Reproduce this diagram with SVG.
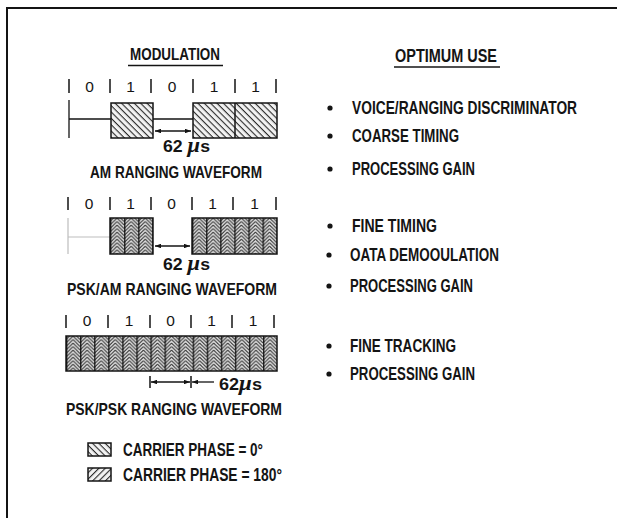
<svg xmlns="http://www.w3.org/2000/svg" width="617" height="518" viewBox="0 0 617 518">
<style>
.t{font-family:"Liberation Sans",Arial,sans-serif;font-weight:bold;fill:#141414}
.h{font-size:16.5px}
.r{font-size:18.5px}
.b{font-size:15.5px;text-anchor:middle;font-weight:normal}
.mu{font-family:"Liberation Serif","DejaVu Serif",serif;font-style:italic;font-size:21px}
.tk{stroke:#141414;stroke-width:1.5}
.ln{stroke:#141414;stroke-width:1.3;fill:none}
.bx{stroke:#141414;stroke-width:1.5}
.dot{fill:#141414}
.hbl{stroke:#3a3a3a;stroke-width:1.1;fill:none}
.hbv{stroke:#111;stroke-width:1.3}
</style>
<defs>
<pattern id="hB" width="4.5" height="4.5" patternUnits="userSpaceOnUse" patternTransform="rotate(45)"><rect width="4.5" height="4.5" fill="#f2f2f2"/><rect y="0" width="4.5" height="1.1" fill="#2a2a2a"/></pattern>
<pattern id="hF" width="4.5" height="4.5" patternUnits="userSpaceOnUse" patternTransform="rotate(-45)"><rect width="4.5" height="4.5" fill="#f2f2f2"/><rect y="0" width="4.5" height="1.1" fill="#2a2a2a"/></pattern>
<pattern id="hb2a" x="110" y="218" width="14.1" height="3.525" patternUnits="userSpaceOnUse"><rect width="14.1" height="3.525" fill="#e4e4e4"/><path class="hbl" d="M0,0 L7.05,-7.05 M0,3.525 L7.05,-3.525 M0,7.05 L7.05,0 M0,10.575 L7.05,3.525 M7.05,-7.05 L14.1,0 M7.05,-3.525 L14.1,3.525 M7.05,0 L14.1,7.05 M7.05,3.525 L14.1,10.575"/><line class="hbv" x1="0.7" y1="0" x2="0.7" y2="3.525"/></pattern>
<pattern id="hb2b" x="192" y="218" width="14.1" height="3.525" patternUnits="userSpaceOnUse"><rect width="14.1" height="3.525" fill="#e4e4e4"/><path class="hbl" d="M0,0 L7.05,-7.05 M0,3.525 L7.05,-3.525 M0,7.05 L7.05,0 M0,10.575 L7.05,3.525 M7.05,-7.05 L14.1,0 M7.05,-3.525 L14.1,3.525 M7.05,0 L14.1,7.05 M7.05,3.525 L14.1,10.575"/><line class="hbv" x1="0.7" y1="0" x2="0.7" y2="3.525"/></pattern>
<pattern id="hb3" x="66" y="336" width="14.07" height="3.525" patternUnits="userSpaceOnUse"><rect width="14.1" height="3.525" fill="#e4e4e4"/><path class="hbl" d="M0,0 L7.05,-7.05 M0,3.525 L7.05,-3.525 M0,7.05 L7.05,0 M0,10.575 L7.05,3.525 M7.05,-7.05 L14.1,0 M7.05,-3.525 L14.1,3.525 M7.05,0 L14.1,7.05 M7.05,3.525 L14.1,10.575"/><line class="hbv" x1="0.7" y1="0" x2="0.7" y2="3.525"/></pattern>
<marker id="ah" viewBox="0 0 8 6" refX="8" refY="3" markerWidth="6" markerHeight="4.5" markerUnits="userSpaceOnUse" orient="auto-start-reverse"><path d="M0,0 L8,3 L0,6 Z" fill="#141414"/></marker>
</defs>
<rect width="617" height="518" fill="#fff"/>
<path d="M7,518 V8 H617" fill="none" stroke="#141414" stroke-width="2"/>

<g id="headings">
<text class="t h" x="130" y="60" textLength="90" lengthAdjust="spacingAndGlyphs">MODULATION</text>
<line x1="128" y1="65.5" x2="223" y2="65.5" class="ln"/>
<text class="t r" x="395" y="62" textLength="102" lengthAdjust="spacingAndGlyphs">OPTIMUM USE</text>
<line x1="394" y1="67" x2="500" y2="67" class="ln"/>
</g>

<g id="am-waveform">
<path class="tk" d="M69,79V93 M110,79V93 M151,79V93 M193,79V93 M235,79V93 M276,79V93"/>
<text class="t b" x="89.5" y="92">0</text><text class="t b" x="130.5" y="92">1</text><text class="t b" x="172" y="92">0</text><text class="t b" x="214" y="92">1</text><text class="t b" x="255.5" y="92">1</text>
<path class="ln" d="M69,100V138 M69,119H111 M153,119H193"/>
<rect class="bx" x="111" y="103" width="42" height="35" fill="url(#hB)"/>
<rect class="bx" x="193" y="103" width="84" height="35" fill="url(#hB)"/>
<line class="bx" x1="235" y1="103" x2="235" y2="138"/>
<line class="ln" x1="155" y1="131" x2="191" y2="131" marker-start="url(#ah)" marker-end="url(#ah)"/>
<text class="t h" x="163" y="152" textLength="47" lengthAdjust="spacingAndGlyphs">62 <tspan class="mu">μ</tspan>s</text>
<text class="t h" x="90" y="178" textLength="172" lengthAdjust="spacingAndGlyphs">AM RANGING WAVEFORM</text>
</g>

<g id="pskam-waveform">
<path class="tk" d="M68,197V210 M110,197V210 M151,197V210 M192,197V210 M233,197V210 M276,197V210"/>
<text class="t b" x="89" y="209">0</text><text class="t b" x="130.5" y="209">1</text><text class="t b" x="171.5" y="209">0</text><text class="t b" x="212.5" y="209">1</text><text class="t b" x="254.5" y="209">1</text>
<path d="M68,218V254 M68,237H110" stroke="#bdbdbd" stroke-width="1.2" fill="none"/>
<rect class="bx" x="110" y="218" width="43" height="36" fill="url(#hb2a)"/>
<rect class="bx" x="192" y="218" width="85" height="36" fill="url(#hb2b)"/>
<line class="ln" x1="155" y1="246" x2="190" y2="246" marker-start="url(#ah)" marker-end="url(#ah)"/>
<text class="t h" x="163" y="270" textLength="47" lengthAdjust="spacingAndGlyphs">62 <tspan class="mu">μ</tspan>s</text>
<text class="t h" x="67" y="295" textLength="210" lengthAdjust="spacingAndGlyphs">PSK/AM RANGING WAVEFORM</text>
</g>

<g id="pskpsk-waveform">
<path class="tk" d="M66,315V328 M108,315V328 M150,315V328 M191,315V328 M232,315V328 M274,315V328"/>
<text class="t b" x="87" y="326">0</text><text class="t b" x="129" y="326">1</text><text class="t b" x="170.5" y="326">0</text><text class="t b" x="211.5" y="326">1</text><text class="t b" x="253" y="326">1</text>
<rect class="bx" x="66" y="336" width="211" height="35" fill="url(#hb3)"/>
<path class="tk" d="M150,376V388 M191,376V388"/>
<line class="ln" x1="151" y1="382" x2="190" y2="382" marker-start="url(#ah)" marker-end="url(#ah)"/>
<line class="ln" x1="192" y1="382" x2="214" y2="382" marker-start="url(#ah)"/>
<text class="t h" x="219" y="390" textLength="43" lengthAdjust="spacingAndGlyphs">62<tspan class="mu">μ</tspan>s</text>
<text class="t h" x="66" y="415" textLength="216" lengthAdjust="spacingAndGlyphs">PSK/PSK RANGING WAVEFORM</text>
</g>

<g id="legend">
<rect class="bx" x="88" y="443" width="23" height="13" fill="url(#hB)"/>
<text class="t r" x="123" y="456" textLength="140" lengthAdjust="spacingAndGlyphs">CARRIER PHASE = 0°</text>
<rect class="bx" x="88" y="468" width="23" height="13" fill="url(#hF)"/>
<text class="t r" x="123" y="481" textLength="159" lengthAdjust="spacingAndGlyphs">CARRIER PHASE = 180°</text>
</g>

<g id="use-am">
<circle class="dot" cx="330" cy="108" r="2.6"/>
<text class="t r" transform="translate(352 114) scale(0.78 1)" x="0" y="0" textLength="288.5" lengthAdjust="spacingAndGlyphs">VOICE/RANGING DISCRIMINATOR</text>
<circle class="dot" cx="330" cy="136" r="2.6"/>
<text class="t r" x="352" y="142" textLength="107" lengthAdjust="spacingAndGlyphs">COARSE TIMING</text>
<circle class="dot" cx="330" cy="169" r="2.6"/>
<text class="t r" x="352" y="175" textLength="123" lengthAdjust="spacingAndGlyphs">PROCESSING GAIN</text>
</g>

<g id="use-pskam">
<circle class="dot" cx="330" cy="226" r="2.6"/>
<text class="t r" x="352" y="232" textLength="85" lengthAdjust="spacingAndGlyphs">FINE TIMING</text>
<circle class="dot" cx="329" cy="255" r="2.6"/>
<text class="t r" x="350" y="261" textLength="149" lengthAdjust="spacingAndGlyphs">OATA DEMOOULATION</text>
<circle class="dot" cx="329" cy="286" r="2.6"/>
<text class="t r" x="350" y="292" textLength="123" lengthAdjust="spacingAndGlyphs">PROCESSING GAIN</text>
</g>

<g id="use-pskpsk">
<circle class="dot" cx="329" cy="346" r="2.6"/>
<text class="t r" x="350" y="352" textLength="106" lengthAdjust="spacingAndGlyphs">FINE TRACKING</text>
<circle class="dot" cx="329" cy="374" r="2.6"/>
<text class="t r" x="350" y="380" textLength="125" lengthAdjust="spacingAndGlyphs">PROCESSING GAIN</text>
</g>
</svg>
